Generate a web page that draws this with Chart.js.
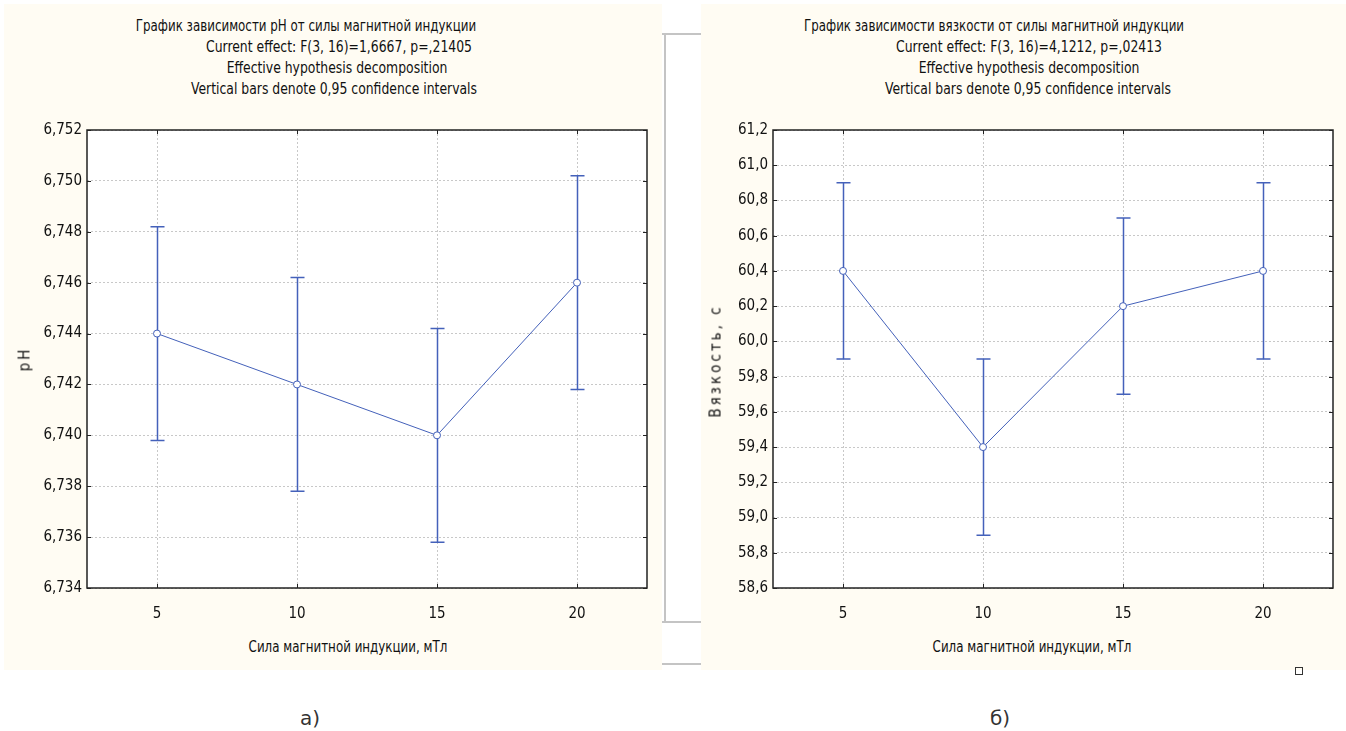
<!DOCTYPE html>
<html>
<head>
<meta charset="utf-8">
<script src="https://cdn.jsdelivr.net/npm/chart.js@4.4.0/dist/chart.umd.min.js"></script>
<style>
  body { margin: 0; width: 1346px; height: 731px; background: #fff; position: relative; overflow: hidden;
         font-family: 'Liberation Sans Narrow', 'DejaVu Sans Condensed', 'Liberation Sans', sans-serif; }
  .panel { position: absolute; background: #fffcf3; }
  .t { position: absolute; white-space: nowrap; transform: translate(-50%, -50%) scaleX(0.92); font-size: 15px; line-height: 1; color: #111; }
  .t.ru { transform: translate(-50%, -50%) scaleX(0.88); }
  .yt { position: absolute; white-space: nowrap; transform: translate(-50%, -50%) rotate(-90deg); font-size: 15px; line-height: 1; letter-spacing: 3px; color: #111; z-index: 2; }
  .cap { position: absolute; transform: translate(-50%, -50%); font-family: 'DejaVu Sans', sans-serif; font-size: 20px; color: #333; }
  .gl { position: absolute; background: #c4c4c4; }
  canvas { position: absolute; top: 0; }
</style>
</head>
<body>
<div class="panel" style="left:4px;top:4px;width:658px;height:666px"></div>
<div class="panel" style="left:701px;top:4px;width:645px;height:666px"></div>

<div class="gl" style="left:662px;top:33px;width:39px;height:2px"></div>
<div class="gl" style="left:664px;top:33px;width:2px;height:590px"></div>
<div class="gl" style="left:662px;top:621px;width:39px;height:2px"></div>
<div class="gl" style="left:662px;top:663px;width:39px;height:2px"></div>
<div style="position:absolute;left:1295px;top:667px;width:6px;height:6px;border:1px solid #333"></div>

<div class="t ru" style="left:306px;top:26px">График зависимости рН от силы магнитной индукции</div>
<div class="t" style="left:339px;top:47px">Current effect: F(3, 16)=1,6667, p=,21405</div>
<div class="t" style="left:337px;top:68px">Effective hypothesis decomposition</div>
<div class="t" style="left:334px;top:89px">Vertical bars denote 0,95 confidence intervals</div>
<div class="t ru" style="left:348px;top:647px">Сила магнитной индукции, мТл</div>

<div class="t ru" style="left:994px;top:26px">График зависимости вязкости от силы магнитной индукции</div>
<div class="t" style="left:1029px;top:47px">Current effect: F(3, 16)=4,1212, p=,02413</div>
<div class="t" style="left:1029px;top:68px">Effective hypothesis decomposition</div>
<div class="t" style="left:1028px;top:89px">Vertical bars denote 0,95 confidence intervals</div>
<div class="t ru" style="left:1032px;top:647px">Сила магнитной индукции, мТл</div>

<div class="cap" style="left:310px;top:718px">а)</div>
<div class="cap" style="left:1000px;top:718px">б)</div>

<canvas id="chartA" width="662" height="670" style="left:0"></canvas>
<canvas id="chartB" width="645" height="670" style="left:701px"></canvas>

<div class="yt" style="left:25px;top:359px">рН</div>
<div class="yt" style="left:716px;top:361px">Вязкость, с</div>

<script>
// magnetic induction, mT
const doses = ['5', '10', '15', '20'];

// pH: means and 0,95 confidence limits
const phMean = [6.744, 6.742, 6.740, 6.746];
const phLow = [6.7398, 6.7378, 6.7358, 6.7418];
const phHigh = [6.7482, 6.7462, 6.7442, 6.7502];

// viscosity, s
const viscMean = [60.4, 59.4, 60.2, 60.4];
const viscLow = [59.9, 58.9, 59.7, 59.9];
const viscHigh = [60.9, 59.9, 60.7, 60.9];

const BLUE = '#4461ba';
const FONT = "'Liberation Sans Narrow', 'DejaVu Sans Condensed', 'Liberation Sans', sans-serif";

// vertical confidence bars with caps
const errorBars = {
    id: 'errorBars',
    beforeDatasetsDraw(chart, args, opts) {
        const { ctx, scales: { x, y } } = chart;
        ctx.save();
        ctx.strokeStyle = BLUE;
        ctx.lineWidth = 1.5;
        opts.low.forEach((lo, i) => {
            const px = Math.round(x.getPixelForValue(i)) + 0.5;
            const yLo = y.getPixelForValue(lo);
            const yHi = y.getPixelForValue(opts.high[i]);
            ctx.beginPath();
            ctx.moveTo(px, yLo); ctx.lineTo(px, yHi);
            ctx.moveTo(px - 7, yLo); ctx.lineTo(px + 7, yLo);
            ctx.moveTo(px - 7, yHi); ctx.lineTo(px + 7, yHi);
            ctx.stroke();
        });
        ctx.restore();
    }
};

// white plot area, black frame round it with small inner ticks
const frame = {
    id: 'frame',
    beforeDraw(chart) {
        const { ctx, chartArea: a } = chart;
        ctx.save();
        ctx.fillStyle = '#fff';
        ctx.fillRect(a.left, a.top, a.right - a.left, a.bottom - a.top);
        ctx.restore();
    },
    afterDraw(chart) {
        const { ctx, chartArea: a, scales: { x, y } } = chart;
        ctx.save();
        ctx.strokeStyle = '#222';
        ctx.lineWidth = 1.5;
        ctx.strokeRect(a.left, a.top, a.right - a.left, a.bottom - a.top);
        ctx.lineWidth = 1;
        ctx.beginPath();
        x.ticks.forEach((t, i) => {
            const px = Math.round(x.getPixelForTick(i)) + 0.5;
            ctx.moveTo(px, a.top); ctx.lineTo(px, a.top + 4);
            ctx.moveTo(px, a.bottom); ctx.lineTo(px, a.bottom - 4);
        });
        y.ticks.forEach((t, i) => {
            const py = Math.round(y.getPixelForTick(i)) + 0.5;
            ctx.moveTo(a.left, py); ctx.lineTo(a.left + 4, py);
            ctx.moveTo(a.right, py); ctx.lineTo(a.right - 4, py);
        });
        ctx.stroke();
        ctx.restore();
    }
};

function makeChart(id, cfg) {
    return new Chart(document.getElementById(id), {
        type: 'line',
        data: {
            labels: doses,
            datasets: [{
                data: cfg.mean,
                borderColor: BLUE,
                borderWidth: 1,
                backgroundColor: '#fff',
                pointBackgroundColor: '#fff',
                pointBorderColor: BLUE,
                pointBorderWidth: 1,
                pointRadius: 3.5,
                tension: 0
            }]
        },
        options: {
            responsive: false,
            animation: false,
            layout: { padding: { left: 0, top: 130, right: cfg.padRight, bottom: 0 } },
            plugins: {
                legend: { display: false },
                tooltip: { enabled: false },
                errorBars: { low: cfg.low, high: cfg.high }
            },
            scales: {
                x: {
                    offset: true,
                    grid: { color: '#c8c8c8', drawTicks: false },
                    border: { display: false, dash: [2, 2] },
                    ticks: { padding: 17, color: '#111', font: { family: FONT, size: 15 } },
                    afterFit: s => { s.height = 82; }
                },
                y: {
                    min: cfg.min,
                    max: cfg.max,
                    grid: { color: '#c8c8c8', drawTicks: false },
                    border: { display: false, dash: [2, 2] },
                    ticks: {
                        stepSize: cfg.step,
                        padding: 5,
                        color: '#111',
                        font: { family: FONT, size: 15 },
                        callback: v => v.toFixed(cfg.digits).replace('.', ',')
                    },
                    afterFit: s => { s.width = cfg.axisWidth; }
                }
            }
        },
        plugins: [errorBars, frame]
    });
}

makeChart('chartA', {
    mean: phMean, low: phLow, high: phHigh,
    min: 6.734, max: 6.752, step: 0.002, digits: 3,
    axisWidth: 87, padRight: 15
});

makeChart('chartB', {
    mean: viscMean, low: viscLow, high: viscHigh,
    min: 58.6, max: 61.2, step: 0.2, digits: 1,
    axisWidth: 72, padRight: 13
});
</script>
</body>
</html>
